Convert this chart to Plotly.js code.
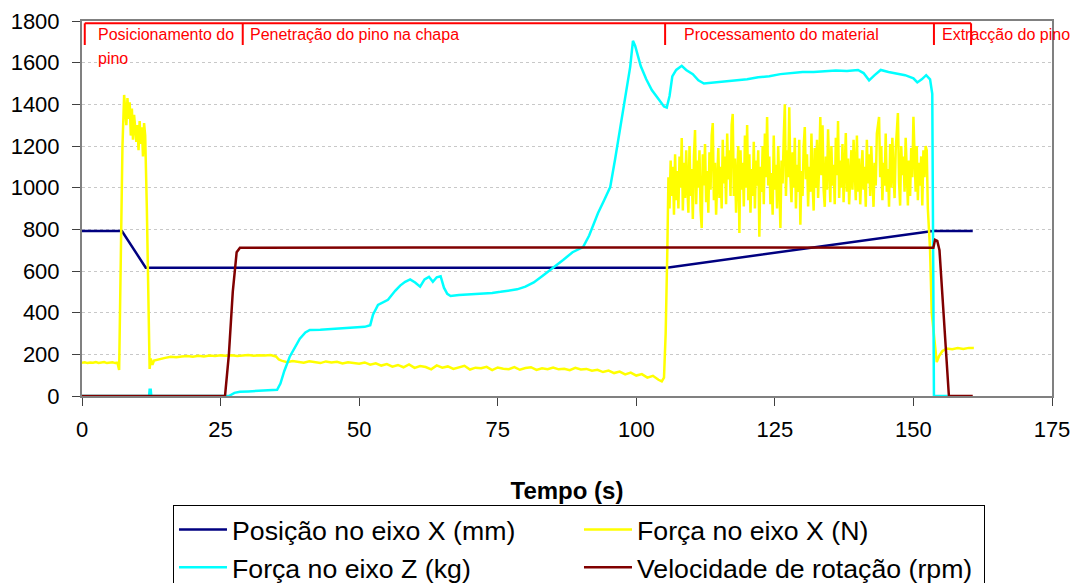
<!DOCTYPE html>
<html>
<head>
<meta charset="utf-8">
<script src="https://cdn.plot.ly/plotly-3.0.1.min.js"></script>
<style>
  html, body { margin: 0; padding: 0; background: #ffffff; }
  #chart { width: 1075px; height: 583px; }
</style>
</head>
<body>
<div id="chart"></div>
<script>
// ---------- DATA ----------
// Posição no eixo X (mm)
const posT = [0, 7.2, 11.5, 105.5, 153.5, 160.7];
const posV = [792, 792, 616, 616, 792, 792];

// Velocidade de rotação (rpm)
const velT = [0, 25.8, 26.5, 27.2, 27.9, 28.5, 60, 100, 153.6, 153.9, 154.3, 154.7, 156.4, 160.7];
const velV = [0, 0, 200, 500, 690, 712, 713, 712, 712, 750, 745, 700, 0, 0];

// Força no eixo Z (kg)
const fzT = [0, 12.1, 12.2, 12.4, 12.5, 26.5, 27.5, 28.5, 30, 33, 35.2, 35.8, 36.5, 37.5, 38.5, 39.3, 40.3, 41.1, 43, 45, 47, 49, 51, 52, 52.5, 53.4, 54.3, 55.2, 56.5, 57.4, 58.3, 59.2, 60.1, 61, 61.8, 62.6, 63.3, 64, 64.7, 65.3, 65.9, 66.5, 68, 70, 72, 74, 75.5, 77, 78.5, 80, 81.5, 83, 84.5, 85.8, 86.8, 88.5, 90.4, 91.5, 93.1, 94.2, 95.3, 96.2, 97.1, 98, 98.9, 99.4, 99.8, 100.8, 101.8, 102.8, 103.6, 104.3, 105, 105.5, 106, 106.5, 107.2, 108.2, 109, 110.2, 111.2, 112.2, 114, 116, 118, 120, 122, 124, 126, 128, 130, 132, 134, 136, 138, 140, 141, 142, 143, 144.1, 145.5, 147, 148.5, 150, 150.7, 151.5, 152.3, 153, 153.4, 153.7, 156.2];
const fzV = [0, 0, 30, 30, 0, 0, 15, 20, 22, 25, 30, 60, 120, 190, 240, 275, 305, 317, 318, 322, 325, 328, 332, 340, 390, 437, 450, 462, 505, 530, 548, 560, 545, 525, 560, 572, 548, 570, 575, 520, 490, 480, 485, 488, 490, 495, 500, 505, 512, 525, 545, 575, 605, 630, 653, 690, 715, 770, 878, 940, 1003, 1140, 1291, 1430, 1580, 1705, 1680, 1584, 1520, 1469, 1440, 1417, 1390, 1385, 1440, 1534, 1565, 1585, 1565, 1545, 1515, 1500, 1505, 1510, 1515, 1520, 1530, 1535, 1545, 1550, 1555, 1555, 1560, 1562, 1560, 1565, 1550, 1515, 1540, 1565, 1555, 1548, 1540, 1525, 1505, 1520, 1540, 1520, 1450, 0, 0];

// Força no eixo X (N): start, noisy processing band, end
const fxHeadT = [0, 0.5, 1, 1.5, 2, 2.5, 3, 3.5, 4, 4.5, 5, 5.5, 6, 6.4, 6.7, 7.0, 7.3, 7.6, 7.8, 8.0, 8.2, 8.4, 8.6, 8.8, 9.0, 9.2, 9.4, 9.6, 9.8, 10.0, 10.2, 10.4, 10.6, 10.8, 11.0, 11.2, 11.4, 11.7, 12.0, 12.2, 12.4, 12.7, 13, 14, 15, 16, 17, 18, 19, 20, 21, 22, 23, 24, 25, 26, 27, 28, 29, 30, 31, 32, 33, 34, 35, 35.5, 36, 37, 38, 39, 40, 41, 42, 43, 44, 45, 46, 47, 48, 49, 50, 51, 52, 53, 54, 55, 56, 57, 58, 59, 60, 61, 62, 63, 64, 65, 66, 67, 68, 69, 70, 71, 72, 73, 74, 75, 76, 77, 78, 79, 80, 81, 82, 83, 84, 85, 86, 87, 88, 89, 90, 91, 92, 93, 94, 95, 96, 97, 98, 99, 100, 101, 102, 103, 104, 104.6, 105.0, 105.3];
const fxHeadV = [160, 162, 158, 161, 160, 163, 159, 161, 163, 158, 160, 162, 158, 160, 125, 600, 1200, 1445, 1380, 1300, 1430, 1330, 1410, 1250, 1380, 1230, 1350, 1270, 1220, 1300, 1180, 1320, 1210, 1290, 1150, 1310, 1250, 900, 500, 130, 180, 150, 170, 178, 183, 188, 186, 190, 192, 189, 193, 190, 194, 192, 195, 193, 196, 192, 195, 197, 193, 196, 194, 197, 190, 175, 170, 162, 168, 165, 160, 167, 163, 158, 166, 161, 164, 156, 162, 159, 155, 161, 150, 157, 146, 153, 141, 149, 138, 152, 135, 144, 139, 128, 147, 136, 142, 130, 138, 145, 127, 136, 133, 140, 124, 137, 131, 129, 139, 126, 134, 138, 125, 133, 129, 137, 128, 131, 124, 135, 127, 130, 121, 126, 115, 122, 110, 117, 104, 112, 98, 105, 88, 97, 78, 70, 88, 300];
const fxBodyStart = 105.6, fxBodyDt = 0.2;   // sampling of the processing band
const fxBodyV = [
  700, 1050, 900, 1130, 960, 1100, 870, 1160, 940, 1080,
  900, 1150, 1000, 1238, 890, 1120, 950, 1180, 1010, 880,
  1200, 960, 1090, 850, 1150, 1277, 920, 1130, 1000, 1180,
  890, 806, 1160, 1010, 1210, 930, 1080, 880, 1170, 990,
  1250, 1310, 940, 1120, 870, 1060, 1190, 950, 1100, 900,
  1230, 1020, 1150, 920, 1260, 1040, 1180, 960, 1300, 1354,
  960, 1140, 880, 1050, 1200, 782, 1180, 990, 1120, 910,
  1250, 1000, 1301, 940, 1160, 880, 1090, 960, 1220, 900,
  1130, 1010, 1180, 765, 1100, 980, 1200, 920, 1260, 1050,
  1339, 1010, 1150, 920, 1070, 870, 1250, 990, 1110, 900,
  1200, 1020, 806, 1130, 1020, 1240, 1400, 960, 1180, 1050,
  1386, 1050, 930, 1170, 1000, 1240, 900, 1110, 980, 1230,
  822, 1080, 960, 1200, 1291, 1040, 1160, 910, 1100, 980,
  1260, 1020, 890, 1190, 1000, 1230, 950, 1120, 1339, 1060,
  1300, 990, 908, 1150, 990, 1280, 1040, 930, 1200, 1010,
  1110, 920, 1240, 1060, 1320, 950, 1130, 1000, 1210, 930,
  1090, 1262, 980, 1140, 920, 1060, 1180, 990, 1230, 1100,
  940, 1250, 980, 1140, 920, 1060, 1180, 990, 1100, 908,
  1230, 1020, 1160, 960, 1200, 1050, 908, 1120, 1010, 1260,
  1300, 1339, 1050, 1200, 940, 1120, 1010, 1260, 980, 1090,
  908, 1210, 1000, 1240, 1070, 950, 1180, 1300, 1358, 1030,
  914, 1200, 1060, 1150, 980, 1240, 1020, 914, 1130, 960,
  1190, 1050, 1340, 1170, 980, 1200, 940, 1120, 1010, 1150,
  914, 1180, 1050, 1200, 1180, 900
];
const fxTailT = [153.0, 153.3, 153.6, 154.2, 154.6, 155.2, 156, 157, 158, 159, 160, 160.9];
const fxTailV = [700, 400, 317, 163, 190, 215, 228, 225, 230, 226, 231, 230];

// Phase labels
const phaseNames = ["Posicionamento do", "pino", "Penetração do pino na chapa", "Processamento do material", "Extracção do pino"];
const phaseBounds = [0.5, 29, 105.2, 153.7, 160.4];

const seriesNames = ["Posição no eixo X (mm)", "Força no eixo X (N)", "Força no eixo Z (kg)", "Velocidade de rotação (rpm)"];
const seriesColors = ["#000080", "#ffff00", "#00ffff", "#800000"];

const xTicks = [0, 25, 50, 75, 100, 125, 150, 175];
const yTicks = [0, 200, 400, 600, 800, 1000, 1200, 1400, 1600, 1800];

// ---------- BUILD ----------
const fxBodyT = fxBodyV.map((_, i) => +(fxBodyStart + i * fxBodyDt).toFixed(2));
const fxT = fxHeadT.concat(fxBodyT, fxTailT);
const fxV = fxHeadV.concat(fxBodyV, fxTailV);

const FONT = "Liberation Sans, Arial, sans-serif";

const traces = [
  {x: posT, y: posV, name: seriesNames[0], type: "scatter", mode: "lines", line: {color: seriesColors[0], width: 2.5}},
  {x: fxT, y: fxV, name: seriesNames[1], type: "scatter", mode: "lines", line: {color: seriesColors[1], width: 2.5}},
  {x: fzT, y: fzV, name: seriesNames[2], type: "scatter", mode: "lines", line: {color: seriesColors[2], width: 2.5}},
  {x: velT, y: velV, name: seriesNames[3], type: "scatter", mode: "lines", line: {color: seriesColors[3], width: 2.5}}
];

const lineTopY = 0.9939, tickBottomY = 0.936;
const shapes = [{
  type: "line", xref: "x", yref: "paper",
  x0: phaseBounds[0], x1: phaseBounds[4], y0: lineTopY, y1: lineTopY,
  line: {color: "#ff0000", width: 2}
}];
phaseBounds.forEach(b => shapes.push({
  type: "line", xref: "x", yref: "paper",
  x0: b, x1: b, y0: lineTopY, y1: tickBottomY,
  line: {color: "#ff0000", width: 2}
}));

const redFont = {family: FONT, size: 16, color: "#ff0000"};
const annPos = [
  {x: 2.5, y: 0.9627}, {x: 2.5, y: 0.9013}, {x: 30, y: 0.9627}, {x: 108.3, y: 0.9627}, {x: 154.8, y: 0.9627}
];
const annotations = phaseNames.map((t, i) => ({
  text: t, xref: "x", yref: "paper", x: annPos[i].x, y: annPos[i].y,
  xanchor: "left", yanchor: "middle", showarrow: false, font: redFont
}));

const layout = {
  width: 1075, height: 583, autosize: false,
  margin: {l: 82, r: 23, t: 21, b: 187, pad: 0, autoexpand: false},
  paper_bgcolor: "#ffffff", plot_bgcolor: "#ffffff",
  font: {family: FONT, color: "#000000", size: 22},
  showlegend: true,
  xaxis: {
    range: [0, 175], tickvals: xTicks, ticktext: xTicks.map(String),
    showgrid: false, zeroline: false,
    showline: true, linecolor: "#808080", linewidth: 2, mirror: true,
    ticks: "outside", ticklen: 8, tickcolor: "#404040", tickwidth: 1,
    tickfont: {family: FONT, size: 22, color: "#000"},
    ticklabelstandoff: 5,
    automargin: false,
    title: {text: "<b>Tempo (s)</b>", font: {family: FONT, size: 24, color: "#000"}, standoff: 41}
  },
  yaxis: {
    range: [0, 1800], tickvals: yTicks, ticktext: yTicks.map(String),
    showgrid: true, gridcolor: "#c8c8c8", gridwidth: 1, griddash: "dot",
    zeroline: false,
    showline: true, linecolor: "#808080", linewidth: 2, mirror: true,
    ticks: "outside", ticklen: 8, tickcolor: "#404040", tickwidth: 1,
    tickfont: {family: FONT, size: 22, color: "#000"},
    ticklabelstandoff: 8,
    automargin: false
  },
  legend: {
    orientation: "h", x: 0.0938, xanchor: "left", y: -0.29, yanchor: "top",
    bgcolor: "#ffffff", bordercolor: "#000000", borderwidth: 1,
    font: {family: FONT, size: 26.7, color: "#000"},
    entrywidth: 342, entrywidthmode: "pixels", itemwidth: 48,
    traceorder: "normal"
  },
  shapes: shapes,
  annotations: annotations
};

Plotly.newPlot("chart", traces, layout, {displayModeBar: false, staticPlot: true});
</script>
</body>
</html>
